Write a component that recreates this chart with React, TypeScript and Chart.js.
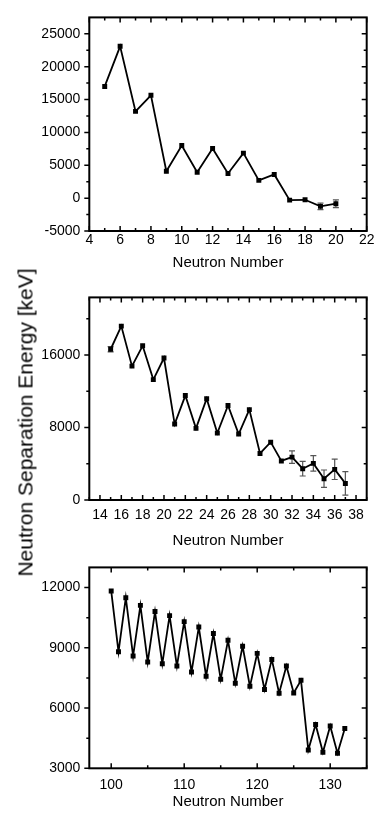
import React, { useEffect, useRef } from "react";
import { Chart, registerables } from "chart.js";
Chart.register(...registerables);

// ---------- Data ----------
// Panel 1 (light nuclei)
const n1 = [5, 6, 7, 8, 9, 10, 11, 12, 13, 14, 15, 16, 17, 18, 19, 20];
const s1 = [17000, 23100, 13200, 15650, 4100, 8000, 3950, 7550, 3750, 6850, 2700, 3600, -300, -250, -1250, -850];
const e1 = [0, 0, 0, 0, 0, 0, 0, 0, 0, 0, 0, 0, 0, 0, 500, 600];
const x1Major = [4, 6, 8, 10, 12, 14, 16, 18, 20, 22];
const x1Minor = [5, 7, 9, 11, 13, 15, 17, 19, 21];
const y1Major = [-5000, 0, 5000, 10000, 15000, 20000, 25000];
const y1Minor = [-2500, 2500, 7500, 12500, 17500, 22500];

// Panel 2
const n2 = [15, 16, 17, 18, 19, 20, 21, 22, 23, 24, 25, 26, 27, 28, 29, 30, 31, 32, 33, 34, 35, 36, 37];
const s2 = [16630, 19180, 14770, 17010, 13280, 15660, 8380, 11520, 7900, 11180, 7380, 10420, 7280, 9970, 5140, 6380, 4310, 4730, 3450, 4040, 2350, 3380, 1830];
const e2 = [300, 0, 0, 0, 0, 0, 0, 0, 0, 0, 0, 0, 0, 0, 0, 0, 0, 700, 800, 860, 960, 1120, 1290];
const x2Major = [14, 16, 18, 20, 22, 24, 26, 28, 30, 32, 34, 36, 38];
const x2Minor = [13, 15, 17, 19, 21, 23, 25, 27, 29, 31, 33, 35, 37, 39];
const y2Major = [0, 8000, 16000];
const y2Minor = [4000, 12000, 20000];

// Panel 3 (heavy nuclei)
const n3 = [100, 101, 102, 103, 104, 105, 106, 107, 108, 109, 110, 111, 112, 113, 114, 115, 116, 117, 118, 119, 120, 121, 122, 123, 124, 125, 126, 127, 128, 129, 130, 131, 132];
const s3 = [11830, 8800, 11490, 8585, 11110, 8290, 10800, 8200, 10600, 8090, 10300, 7790, 10030, 7585, 9710, 7430, 9370, 7230, 9080, 7080, 8720, 6920, 8420, 6740, 8090, 6750, 7380, 3910, 5180, 3800, 5110, 3750, 4985];
const e3 = s3.map(() => 0);
const x3Major = [100, 110, 120, 130];
const x3Minor = [105, 115, 125, 135];
const y3Major = [3000, 6000, 9000, 12000];
const y3Minor = [4500, 7500, 10500];

const xTitle = "Neutron Number";
const yTitle = "Neutron Separation Energy [keV]";

Chart.defaults.font.family = "'Liberation Sans', Arial, Helvetica, sans-serif";
Chart.defaults.color = "#000";

type Panel = {
  top: number;
  height: number;
  padTop: number;
  axisH: number;
  titlePad: number;
  xPad: number;
  xMin: number;
  xMax: number;
  yMin: number;
  yMax: number;
  xMajor: number[];
  xMinor: number[];
  yMajor: number[];
  yMinor: number[];
  n: number[];
  s: number[];
  e: number[];
};

const panels: Panel[] = [
  { top: 0, height: 280, padTop: 14, axisH: 49, titlePad: 8, xPad: 1, xMin: 4, xMax: 22, yMin: -5000, yMax: 27500, xMajor: x1Major, xMinor: x1Minor, yMajor: y1Major, yMinor: y1Minor, n: n1, s: s1, e: e1 },
  { top: 280, height: 270, padTop: 4, axisH: 50, titlePad: 0, xPad: 7, xMin: 13, xMax: 39, yMin: 0, yMax: 22350, xMajor: x2Major, xMinor: x2Minor, yMajor: y2Major, yMinor: y2Minor, n: n2, s: s2, e: e2 },
  { top: 550, height: 267, padTop: 2.3, axisH: 48.7, titlePad: 6, xPad: 8, xMin: 97, xMax: 135, yMin: 3000, yMax: 13000, xMajor: x3Major, xMinor: x3Minor, yMajor: y3Major, yMinor: y3Minor, n: n3, s: s3, e: e3 },
];

function makePlugin(p: Panel) {
  return {
    id: "frameTicks",
    beforeDatasetsDraw(chart: any) {
      const { ctx, scales } = chart;
      const x = scales.x, y = scales.y;
      ctx.save();
      ctx.strokeStyle = "#555";
      ctx.lineWidth = 1.2;
      p.n.forEach((nv, i) => {
        const err = p.e[i];
        if (!err) return;
        const px = x.getPixelForValue(nv);
        const y0 = y.getPixelForValue(p.s[i] - err);
        const y1 = y.getPixelForValue(p.s[i] + err);
        ctx.beginPath();
        ctx.moveTo(px, y0); ctx.lineTo(px, y1);
        ctx.moveTo(px - 3, y0); ctx.lineTo(px + 3, y0);
        ctx.moveTo(px - 3, y1); ctx.lineTo(px + 3, y1);
        ctx.stroke();
      });
      ctx.restore();
    },
    afterDraw(chart: any) {
      const { ctx, chartArea: a, scales } = chart;
      const x = scales.x, y = scales.y;
      ctx.save();
      ctx.strokeStyle = "#000";
      ctx.lineWidth = 1.5;
      const vt = (v: number, len: number) => {
        const px = x.getPixelForValue(v);
        ctx.beginPath();
        ctx.moveTo(px, a.bottom); ctx.lineTo(px, a.bottom - len);
        ctx.moveTo(px, a.top); ctx.lineTo(px, a.top + len);
        ctx.stroke();
      };
      const ht = (v: number, len: number) => {
        const py = y.getPixelForValue(v);
        ctx.beginPath();
        ctx.moveTo(a.left, py); ctx.lineTo(a.left - len, py);
        ctx.moveTo(a.right, py); ctx.lineTo(a.right - len, py);
        ctx.stroke();
      };
      p.xMajor.forEach((v) => vt(v, 5));
      p.xMinor.forEach((v) => vt(v, 3));
      p.yMajor.forEach((v) => ht(v, 5));
      p.yMinor.forEach((v) => ht(v, 3));
      ctx.lineWidth = 2;
      ctx.strokeRect(a.left, a.top, a.right - a.left, a.bottom - a.top);
      ctx.restore();
    },
  };
}

function PanelChart({ p }: { p: Panel }) {
  const ref = useRef<HTMLCanvasElement | null>(null);
  useEffect(() => {
    if (!ref.current) return;
    const chart = new Chart(ref.current, {
      type: "scatter",
      data: {
        datasets: [
          {
            data: p.n.map((nv, i) => ({ x: nv, y: p.s[i] })),
            showLine: true,
            borderColor: "#000",
            backgroundColor: "#000",
            borderWidth: 1.8,
            pointStyle: "rect",
            pointRadius: 3.5,
            pointBorderWidth: 0,
            pointBackgroundColor: "#000",
          },
        ],
      },
      options: {
        responsive: false,
        animation: false,
        devicePixelRatio: 1,
        layout: { padding: { left: 0, right: 15.3, top: p.padTop, bottom: 0 } },
        plugins: { legend: { display: false }, tooltip: { enabled: false } },
        scales: {
          x: {
            type: "linear",
            min: p.xMin,
            max: p.xMax,
            grid: { display: false, drawTicks: false },
            border: { display: false },
            afterBuildTicks: (s: any) => {
              s.ticks = p.xMajor.map((v) => ({ value: v }));
            },
            afterFit: (s: any) => {
              s.height = p.axisH;
            },
            ticks: {
              padding: p.xPad,
              color: "#000",
              font: { size: 14 },
              maxRotation: 0,
              autoSkip: false,
              callback: (v: any) => String(v),
            },
            title: {
              display: true,
              text: xTitle,
              color: "#000",
              font: { size: 15 },
              padding: { top: 0, bottom: p.titlePad },
            },
          },
          y: {
            type: "linear",
            min: p.yMin,
            max: p.yMax,
            grid: { display: false, drawTicks: false },
            border: { display: false },
            afterBuildTicks: (s: any) => {
              s.ticks = p.yMajor.map((v) => ({ value: v }));
            },
            afterFit: (s: any) => {
              s.width = 89.3;
            },
            ticks: {
              padding: 9,
              color: "#000",
              font: { size: 14 },
              autoSkip: false,
              callback: (v: any) => String(v),
            },
          },
        },
      } as any,
      plugins: [makePlugin(p)],
    });
    return () => chart.destroy();
  }, [p]);
  return (
    <canvas
      ref={ref}
      width={382}
      height={p.height}
      style={{ position: "absolute", left: 0, top: p.top, width: 382, height: p.height }}
    />
  );
}

export default function App() {
  return (
    <div style={{ position: "absolute", left: 0, top: 0, width: 382, height: 817, background: "#fff", overflow: "hidden" }}>
      {panels.map((p, i) => (
        <PanelChart key={i} p={p} />
      ))}
      <div
        style={{
          position: "absolute",
          left: 25 - 200,
          top: 422.5 - 10.5,
          width: 400,
          height: 21,
          lineHeight: "21px",
          fontSize: 21,
          fontFamily: "'Liberation Sans', Arial, Helvetica, sans-serif",
          color: "#000",
          textAlign: "center",
          whiteSpace: "nowrap",
          transform: "rotate(-90deg)",
          transformOrigin: "50% 50%",
        }}
      >
        {yTitle}
      </div>
    </div>
  );
}
